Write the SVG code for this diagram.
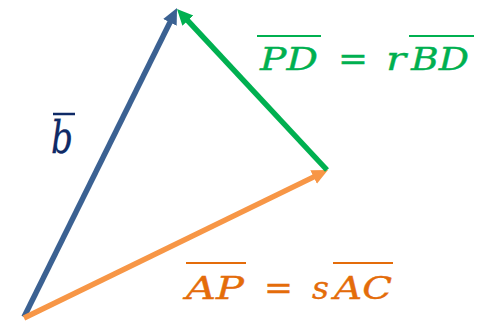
<svg xmlns="http://www.w3.org/2000/svg" width="492" height="321" viewBox="0 0 492 321">
<style>
.vec{fill:none;stroke-width:5.5;stroke-linecap:butt}
.m{font-family:"DejaVu Serif","Liberation Serif",serif;font-style:italic;font-size:31px;stroke-width:0.35}
.g{fill:#00B050;stroke:#00B050}
.o{fill:#E46C0A;stroke:#E46C0A}
.ol{stroke-width:2.2}
</style>
<defs>
<marker id="ab" markerUnits="userSpaceOnUse" markerWidth="18" markerHeight="18" viewBox="0 -9 18 18" refX="6" refY="0" orient="auto"><path d="M0,-7.5 L16,0 L0,7.5 z" fill="#3B6192"/></marker>
<marker id="ag" markerUnits="userSpaceOnUse" markerWidth="18" markerHeight="18" viewBox="0 -9 18 18" refX="6" refY="0" orient="auto"><path d="M0,-7.5 L16,0 L0,7.5 z" fill="#00B050"/></marker>
<marker id="ao" markerUnits="userSpaceOnUse" markerWidth="18" markerHeight="18" viewBox="0 -9 18 18" refX="6" refY="0" orient="auto"><path d="M0,-7.5 L16,0 L0,7.5 z" fill="#F79646"/></marker>
</defs>
<rect width="492" height="321" fill="#fff"/>
<g id="connectors">
<line id="vec-b" class="vec" x1="24" y1="317" x2="172.6" y2="17" stroke="#3B6192" marker-end="url(#ab)"/>
<line id="vec-AP" class="vec" x1="24" y1="318" x2="319" y2="174.4" stroke="#F79646" marker-end="url(#ao)"/>
<line id="vec-PD" class="vec" x1="327" y1="170" x2="183.8" y2="16.3" stroke="#00B050" marker-end="url(#ag)"/>
</g>
<g id="label-b">
<text x="51" y="153" font-family="DejaVu Serif,Liberation Serif,serif" font-style="italic" font-size="45" fill="#0F2A66" stroke="#0F2A66" stroke-width="0.3" textLength="22" lengthAdjust="spacingAndGlyphs">b</text>
<line x1="53" y1="114" x2="75" y2="114" stroke="#0F2A66" stroke-width="2.5"/>
</g>
<g id="label-PD">
<text class="m g" x="260" y="70" textLength="58" lengthAdjust="spacingAndGlyphs">PD</text>
<line class="ol" x1="257" y1="36" x2="321" y2="36" stroke="#00B050"/>
<text class="m g" x="338" y="70" textLength="30" lengthAdjust="spacingAndGlyphs">=</text>
<text class="m g" x="386" y="70" textLength="20" lengthAdjust="spacingAndGlyphs">r</text>
<text class="m g" x="411" y="70" textLength="58" lengthAdjust="spacingAndGlyphs">BD</text>
<line class="ol" x1="409" y1="36" x2="474" y2="36" stroke="#00B050"/>
</g>
<g id="label-AP">
<text class="m o" x="186" y="299" textLength="58" lengthAdjust="spacingAndGlyphs">AP</text>
<line class="ol" x1="186" y1="263" x2="246" y2="263" stroke="#E46C0A"/>
<text class="m o" x="264" y="299" textLength="29" lengthAdjust="spacingAndGlyphs">=</text>
<text class="m o" x="312" y="299" textLength="17" lengthAdjust="spacingAndGlyphs">s</text>
<text class="m o" x="334" y="299" textLength="58" lengthAdjust="spacingAndGlyphs">AC</text>
<line class="ol" x1="333" y1="263" x2="393" y2="263" stroke="#E46C0A"/>
</g>
</svg>
